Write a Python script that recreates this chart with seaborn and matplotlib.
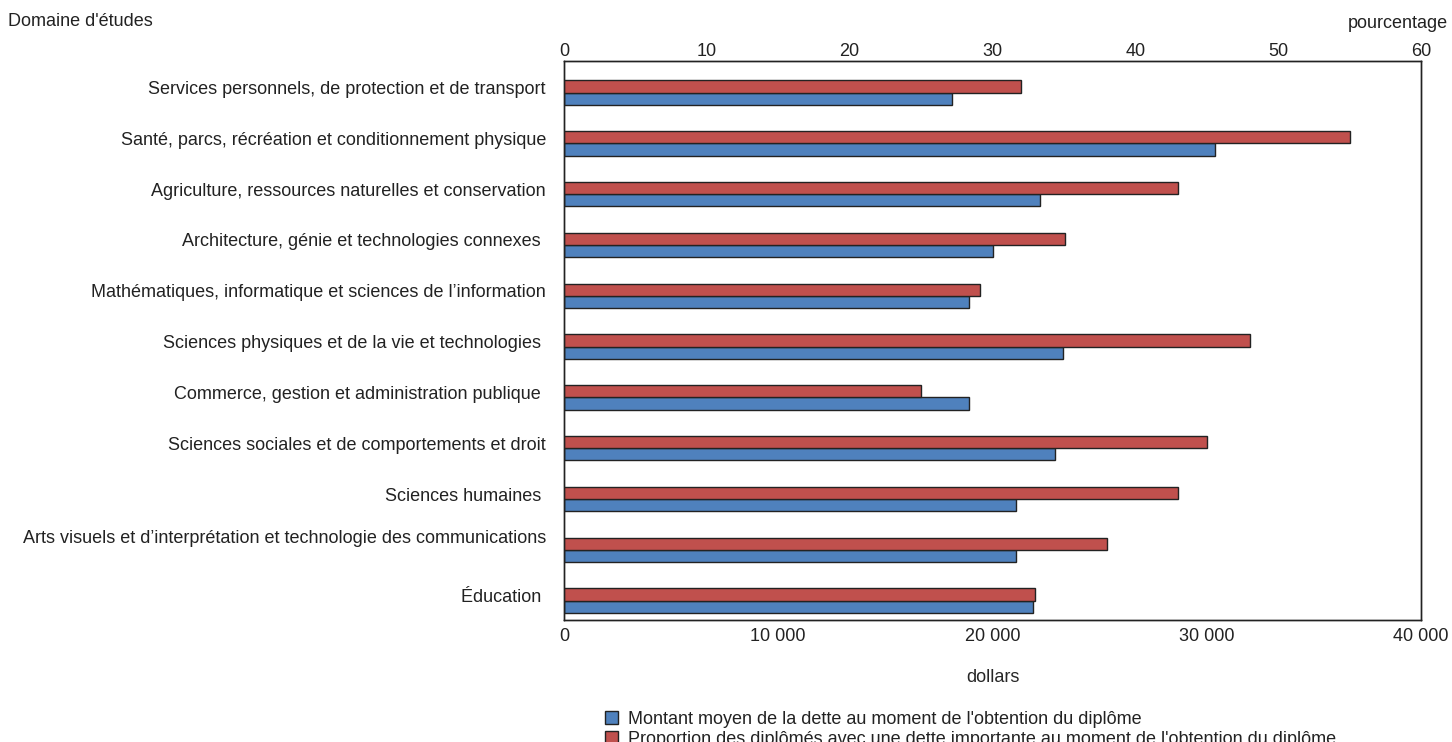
import numpy as np
import pandas as pd
import matplotlib
matplotlib.use("Agg")
import matplotlib.pyplot as plt
import seaborn as sns
from matplotlib.ticker import FuncFormatter
from matplotlib.patches import Patch
from matplotlib.transforms import ScaledTranslation

domaines = [
    "Services personnels, de protection et de transport",
    "Santé, parcs, récréation et conditionnement physique",
    "Agriculture, ressources naturelles et conservation",
    "Architecture, génie et technologies connexes ",
    "Mathématiques, informatique et sciences de l\u2019information",
    "Sciences physiques et de la vie et technologies ",
    "Commerce, gestion et administration publique ",
    "Sciences sociales et de comportements et droit",
    "Sciences humaines ",
    "Arts visuels et d\u2019interprétation et technologie des communications\n",
    "Éducation ",
]
dette_moyenne = [18100, 30400, 22200, 20000, 18900, 23300, 18900, 22900, 21100, 21100, 21900]
proportion_dette = [32.0, 55.0, 43.0, 35.1, 29.1, 48.0, 25.0, 45.0, 43.0, 38.0, 33.0]

lab_dette = "Montant moyen de la dette au moment de l'obtention du diplôme"
lab_prop = "Proportion des diplômés avec une dette importante au moment de l'obtention du diplôme"
couleurs = {lab_prop: "#C0504D", lab_dette: "#4F81BD"}
ordre = [lab_prop, lab_dette]

sns.set_style("white")
plt.rcParams['font.family'] = ['Liberation Sans', 'DejaVu Sans']
plt.rcParams['text.color'] = '#222222'
plt.rcParams['xtick.color'] = '#222222'
plt.rcParams['ytick.color'] = '#222222'
fs = 13

n = len(domaines)
df_dollars = pd.DataFrame({"domaine": domaines * 2,
                           "valeur": dette_moyenne + [np.nan] * n,
                           "serie": [lab_dette] * n + [lab_prop] * n})
df_pct = pd.DataFrame({"domaine": domaines * 2,
                       "valeur": [np.nan] * n + proportion_dette,
                       "serie": [lab_dette] * n + [lab_prop] * n})

fig = plt.figure(figsize=(14.52, 7.42), dpi=100)
ax = fig.add_axes([564/1452, 1-620/742, (1421-564)/1452, (620-61)/742])
ax2 = ax.twiny()

sns.barplot(data=df_dollars, y="domaine", x="valeur", hue="serie", hue_order=ordre,
            order=domaines, palette=couleurs, saturation=1, orient="h", width=0.48,
            dodge=True, edgecolor="#222222", linewidth=1, errorbar=None, legend=False, ax=ax)
sns.barplot(data=df_pct, y="domaine", x="valeur", hue="serie", hue_order=ordre,
            order=domaines, palette=couleurs, saturation=1, orient="h", width=0.48,
            dodge=True, edgecolor="#222222", linewidth=1, errorbar=None, legend=False, ax=ax2)

ax.set_xlim(0, 40000)
ax2.set_xlim(0, 60)
ax.set_ylim(n - 0.62, -0.62)
ax.set_xticks([0, 10000, 20000, 30000, 40000])
ax.xaxis.set_major_formatter(FuncFormatter(lambda v, p: f"{int(v):,}".replace(",", " ")))
ax2.set_xticks([0, 10, 20, 30, 40, 50, 60])
ax.set_xlabel("dollars", fontsize=fs, labelpad=17)
ax.set_ylabel("")
ax2.set_xlabel("")
ax2.set_ylabel("")
ax.tick_params(axis="x", length=0, labelsize=fs, pad=6)
ax2.tick_params(axis="x", length=0, labelsize=fs, pad=1)
ax.tick_params(axis="y", length=0, labelsize=fs, pad=13)
# les libellés sont un peu au-dessus du centre des barres
decal = ScaledTranslation(0, 0.05, fig.dpi_scale_trans)
for lbl in ax.get_yticklabels():
    lbl.set_transform(lbl.get_transform() + decal)
for a in (ax, ax2):
    for s in a.spines.values():
        s.set_color("#222222")
        s.set_linewidth(1)

fig.text(8/1452, 1-22/742, "Domaine d'études", fontsize=fs, va="center", ha="left")
fig.text(1448/1452, 1-23/742, "pourcentage", fontsize=fs, va="center", ha="right")

handles = [Patch(facecolor=couleurs[lab_dette], edgecolor="#222222", label=lab_dette),
           Patch(facecolor=couleurs[lab_prop], edgecolor="#222222", label=lab_prop)]
fig.legend(handles=handles, loc="upper left", bbox_to_anchor=(596/1452, 1-702/742),
           frameon=False, fontsize=fs, handlelength=0.7, handleheight=0.7,
           handletextpad=0.6, labelspacing=0.15, borderpad=0)

fig.savefig("out.png", dpi=100)
